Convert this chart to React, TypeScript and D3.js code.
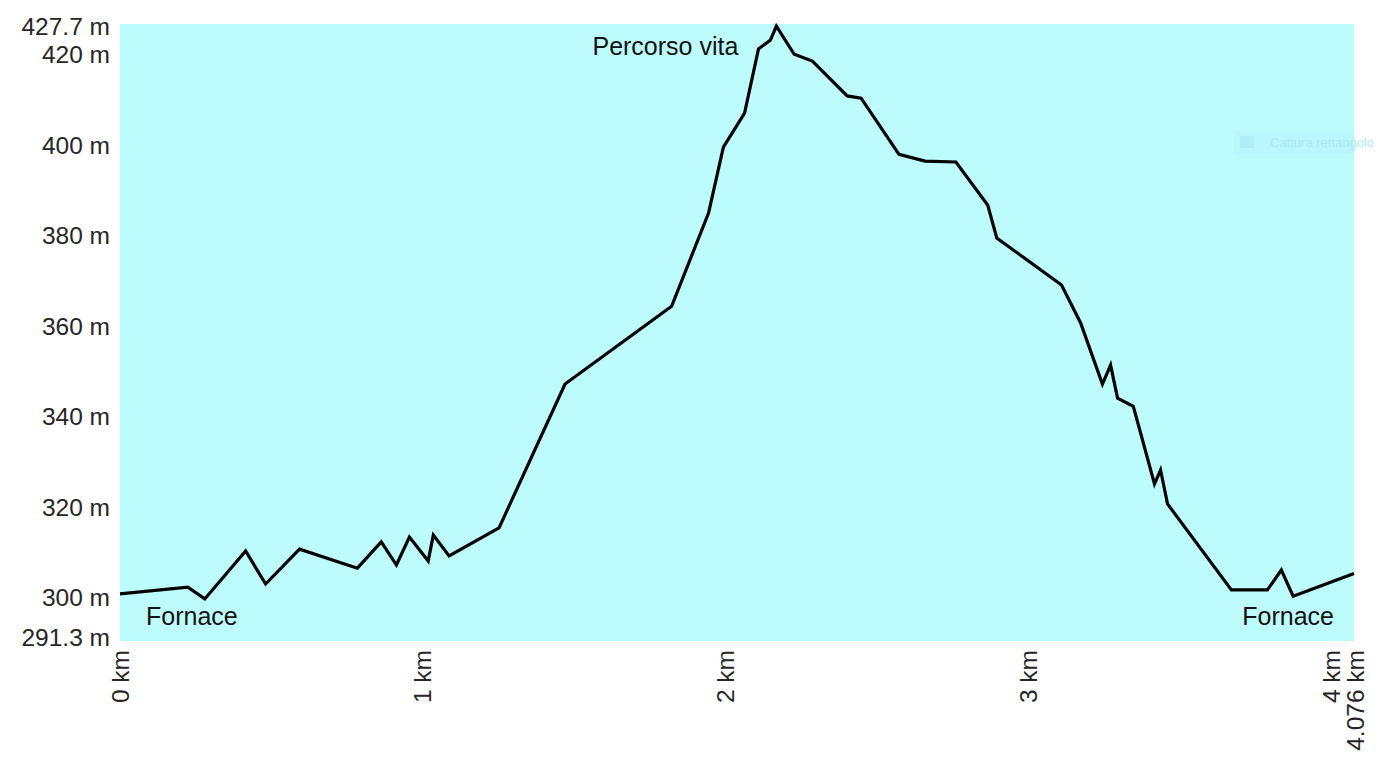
import React, { useEffect, useRef } from 'react';
import * as d3 from 'd3';

// distance along the route (km) and elevation (m)
const distanceKm = [
  0, 0.224, 0.28, 0.415, 0.481, 0.593, 0.784, 0.863, 0.913, 0.956, 1.018, 1.035, 1.087,
  1.252, 1.47, 1.822, 1.944, 1.993, 2.063, 2.109, 2.148, 2.168, 2.227, 2.287, 2.402, 2.448,
  2.573, 2.659, 2.761, 2.866, 2.896, 3.11, 3.173, 3.245, 3.272, 3.295, 3.347, 3.417, 3.437,
  3.46, 3.671, 3.79, 3.836, 3.875, 4.076,
];
const elevationM = [
  301.7, 303.2, 300.6, 311.2, 303.9, 311.6, 307.4, 313.2, 308.1, 314.3, 309.0, 314.7, 310.1,
  316.3, 348.1, 365.3, 385.9, 400.5, 408.0, 422.2, 424.1, 427.2, 421.0, 419.5, 411.8, 411.3,
  398.9, 397.4, 397.2, 387.7, 380.4, 370.0, 361.6, 348.1, 352.3, 345.0, 343.2, 326.0, 329.1,
  321.6, 302.6, 302.6, 307.0, 301.2, 306.2,
];

const yTicks = [300, 320, 340, 360, 380, 400, 420];
const xTicks = [0, 1, 2, 3, 4];
const yMin = 291.3;
const yMax = 427.7;
const xMax = 4.076;

export default function App() {
  const ref = useRef<SVGSVGElement | null>(null);

  useEffect(() => {
    const width = 1387;
    const height = 769;
    const margin = { left: 120, right: 33, top: 24, bottom: 128 };

    const svg = d3.select(ref.current);
    svg.selectAll('*').remove();

    const x = d3.scaleLinear().domain([0, xMax]).range([margin.left, width - margin.right]);
    const y = d3.scaleLinear().domain([yMin, yMax]).range([height - margin.bottom, margin.top]);

    // plot background
    svg.append('rect')
      .attr('x', x(0))
      .attr('y', y(yMax))
      .attr('width', x(xMax) - x(0))
      .attr('height', y(yMin) - y(yMax))
      .attr('fill', '#bdfcfd');

    // faint screenshot watermark
    svg.append('rect')
      .attr('x', 1234).attr('y', 130).attr('width', 120).attr('height', 24)
      .attr('fill', '#b8f7fb');
    svg.append('rect')
      .attr('x', 1240).attr('y', 136).attr('width', 14).attr('height', 12)
      .attr('fill', '#b0eef6');
    svg.append('text')
      .attr('x', 1270).attr('y', 147)
      .style('font-family', 'Liberation Sans, Arial, sans-serif')
      .style('font-size', '13px')
      .attr('fill', '#a9eaf2')
      .text('Cattura rettangolo');

    const font = 'Liberation Sans, Arial, sans-serif';

    // y labels
    const yLabels = [{ v: yMax, t: '427.7 m', dy: 2 }, ...yTicks.map(v => ({ v, t: v + ' m', dy: -4 })), { v: yMin, t: '291.3 m', dy: -4 }];
    svg.append('g').selectAll('text')
      .data(yLabels)
      .enter().append('text')
      .attr('x', margin.left - 10)
      .attr('y', d => y(d.v) + d.dy)
      .attr('dy', '0.35em')
      .attr('text-anchor', 'end')
      .style('font-family', font)
      .style('font-size', '24.5px')
      .attr('fill', '#262626')
      .text(d => d.t);

    // x labels (rotated)
    const xLabels = [...xTicks.map(v => ({ v, t: v + ' km', off: 0 })), { v: xMax, t: '4.076 km', off: 1 }];
    svg.append('g').selectAll('text')
      .data(xLabels)
      .enter().append('text')
      .attr('transform', d => `translate(${x(d.v) + d.off},${height - margin.bottom + 9}) rotate(-90)`)
      .attr('dy', '0.35em')
      .attr('text-anchor', 'end')
      .style('font-family', font)
      .style('font-size', '24.5px')
      .attr('fill', '#262626')
      .text(d => d.t);

    // profile line
    const pts = distanceKm.map((d, i) => [d, elevationM[i]] as [number, number]);
    const line = d3.line<[number, number]>().x(d => x(d[0])).y(d => y(d[1]));
    svg.append('path')
      .attr('d', line(pts))
      .attr('fill', 'none')
      .attr('stroke', '#000')
      .attr('stroke-width', 3.2)
      .attr('stroke-linejoin', 'miter');

    // waypoint labels
    const peakIdx = elevationM.indexOf(d3.max(elevationM) as number);
    const labels = [
      { t: 'Fornace', x: x(distanceKm[0]) + 26, y: y(yMin) - 16, anchor: 'start' },
      { t: 'Percorso vita', x: x(distanceKm[peakIdx]) - 38, y: y(yMax) + 31, anchor: 'end' },
      { t: 'Fornace', x: x(xMax) - 20, y: y(yMin) - 16, anchor: 'end' },
    ];
    svg.append('g').selectAll('text')
      .data(labels)
      .enter().append('text')
      .attr('x', d => d.x)
      .attr('y', d => d.y)
      .attr('text-anchor', d => d.anchor)
      .style('font-family', font)
      .style('font-size', '25px')
      .attr('fill', '#111')
      .text(d => d.t);
  }, []);

  return (
    <svg
      ref={ref}
      width={1387}
      height={769}
      style={{ position: 'absolute', left: 0, top: 0, background: '#fff' }}
    />
  );
}
